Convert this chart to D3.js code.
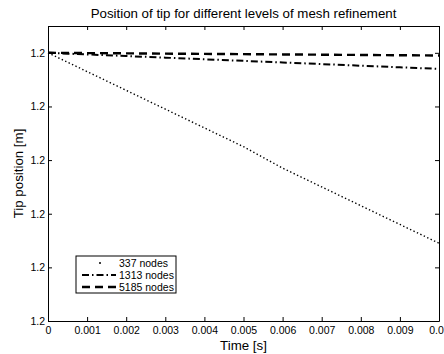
<!DOCTYPE html>
<html>
<head>
<meta charset="utf-8">
<script src="https://cdn.jsdelivr.net/npm/d3@7"></script>
<style>
  html, body { margin: 0; padding: 0; background: #fff; }
  svg { display: block; font-family: "Liberation Sans", Arial, Helvetica, sans-serif; }
</style>
</head>
<body>
<svg id="chart" width="444" height="354"></svg>
<script>
// Simulation time samples [s]
const time = [0, 0.001, 0.002, 0.003, 0.004, 0.005, 0.006, 0.007, 0.008, 0.009, 0.01];

// Tip position [m] for each mesh
const nodes337  = [1.200000, 1.199993, 1.199986, 1.199979, 1.199972, 1.199965, 1.199957, 1.199950, 1.199943, 1.199936, 1.199929];
const nodes1313 = [1.200000, 1.1999994, 1.1999988, 1.1999982, 1.1999976, 1.1999970, 1.1999964, 1.1999958, 1.1999952, 1.1999946, 1.1999940];
const nodes5185 = [1.200000, 1.1999999, 1.1999998, 1.1999997, 1.1999996, 1.1999995, 1.1999994, 1.1999993, 1.1999992, 1.1999991, 1.1999990];

const seriesNames = ["337 nodes", "1313 nodes", "5185 nodes"];

// Axis ticks
const xTicks = [0, 0.001, 0.002, 0.003, 0.004, 0.005, 0.006, 0.007, 0.008, 0.009, 0.01];
const xTickLabels = ["0", "0.001", "0.002", "0.003", "0.004", "0.005", "0.006", "0.007", "0.008", "0.009", "0.01"];
const yTicks = [1.19990, 1.19992, 1.19994, 1.19996, 1.19998, 1.20000];
const yTickLabels = ["1.2", "1.2", "1.2", "1.2", "1.2", "1.2"];
const yDomain = [1.19990, 1.20001];

const svg = d3.select("#chart");
const plot = { left: 48, right: 439, top: 26, bottom: 321 };

const x = d3.scaleLinear().domain([0, 0.01]).range([plot.left, plot.right]);
const y = d3.scaleLinear().domain(yDomain).range([plot.bottom, plot.top]);

const styles = [
  { data: nodes337,  width: 1.4, dash: "1.4,2.4", color: "#000" },
  { data: nodes1313, width: 2,   dash: "7,3,1.5,3", color: "#000" },
  { data: nodes5185, width: 2.4, dash: "8,5", color: "#000" }
];

// Plot box
svg.append("rect")
  .attr("x", plot.left).attr("y", plot.top)
  .attr("width", plot.right - plot.left).attr("height", plot.bottom - plot.top)
  .attr("fill", "#fff");

// Curves
const line = d3.line().x((d, i) => x(time[i])).y(d => y(d));
const curves = svg.append("g");
styles.forEach(s => {
  curves.append("path")
    .attr("d", line(s.data))
    .attr("fill", "none")
    .attr("stroke", s.color)
    .attr("stroke-width", s.width)
    .attr("stroke-dasharray", s.dash);
});

// Axes with inward ticks, mirrored on the opposite sides
const tickLen = 4;
const axisBottom = d3.axisBottom(x).tickValues(xTicks)
  .tickFormat((d, i) => xTickLabels[i]).tickSizeInner(-tickLen).tickSizeOuter(0).tickPadding(6);
const axisTop = d3.axisTop(x).tickValues(xTicks)
  .tickFormat("").tickSizeInner(-tickLen).tickSizeOuter(0);
const axisLeft = d3.axisLeft(y).tickValues(yTicks)
  .tickFormat((d, i) => yTickLabels[i]).tickSizeInner(-tickLen).tickSizeOuter(0).tickPadding(3);
const axisRight = d3.axisRight(y).tickValues(yTicks)
  .tickFormat("").tickSizeInner(-tickLen).tickSizeOuter(0);

function styleAxis(g) {
  g.select(".domain").attr("stroke", "#000").attr("stroke-width", 1);
  g.selectAll(".tick line").attr("stroke", "#000");
  g.selectAll(".tick text").attr("fill", "#000").attr("font-size", 10.5)
    .attr("font-family", "'Liberation Sans', Arial, sans-serif");
}

svg.append("g").attr("transform", `translate(0,${plot.bottom})`).call(axisBottom).call(styleAxis);
svg.append("g").attr("transform", `translate(0,${plot.top})`).call(axisTop).call(styleAxis);
svg.append("g").attr("transform", `translate(${plot.left},0)`).call(axisLeft).call(styleAxis);
svg.append("g").attr("transform", `translate(${plot.right},0)`).call(axisRight).call(styleAxis);

// Title and axis labels
svg.append("text")
  .attr("x", (plot.left + plot.right) / 2).attr("y", 18)
  .attr("text-anchor", "middle").attr("font-size", 13.3)
  .text("Position of tip for different levels of mesh refinement");

svg.append("text")
  .attr("x", (plot.left + plot.right) / 2).attr("y", 350)
  .attr("text-anchor", "middle").attr("font-size", 13.3)
  .text("Time [s]");

svg.append("text")
  .attr("transform", `translate(23,${(plot.top + plot.bottom) / 2}) rotate(-90)`)
  .attr("text-anchor", "middle").attr("font-size", 13.3)
  .text("Tip position [m]");

// Legend
const legend = svg.append("g").attr("transform", "translate(76,256)");
legend.append("rect")
  .attr("x", 0).attr("y", 0).attr("width", 100).attr("height", 37)
  .attr("fill", "#fff").attr("stroke", "#000").attr("stroke-width", 1);

seriesNames.forEach((name, i) => {
  const cy = 7 + i * 12;
  const s = styles[i];
  if (i === 0) {
    legend.append("circle").attr("cx", 24).attr("cy", cy).attr("r", 1).attr("fill", "#000");
  } else {
    legend.append("line")
      .attr("x1", 6).attr("x2", 40).attr("y1", cy).attr("y2", cy)
      .attr("stroke", s.color).attr("stroke-width", s.width)
      .attr("stroke-dasharray", s.dash);
  }
  legend.append("text")
    .attr("x", 43).attr("y", cy + 3.7)
    .attr("font-size", 10.5)
    .text(name);
});
</script>
</body>
</html>
